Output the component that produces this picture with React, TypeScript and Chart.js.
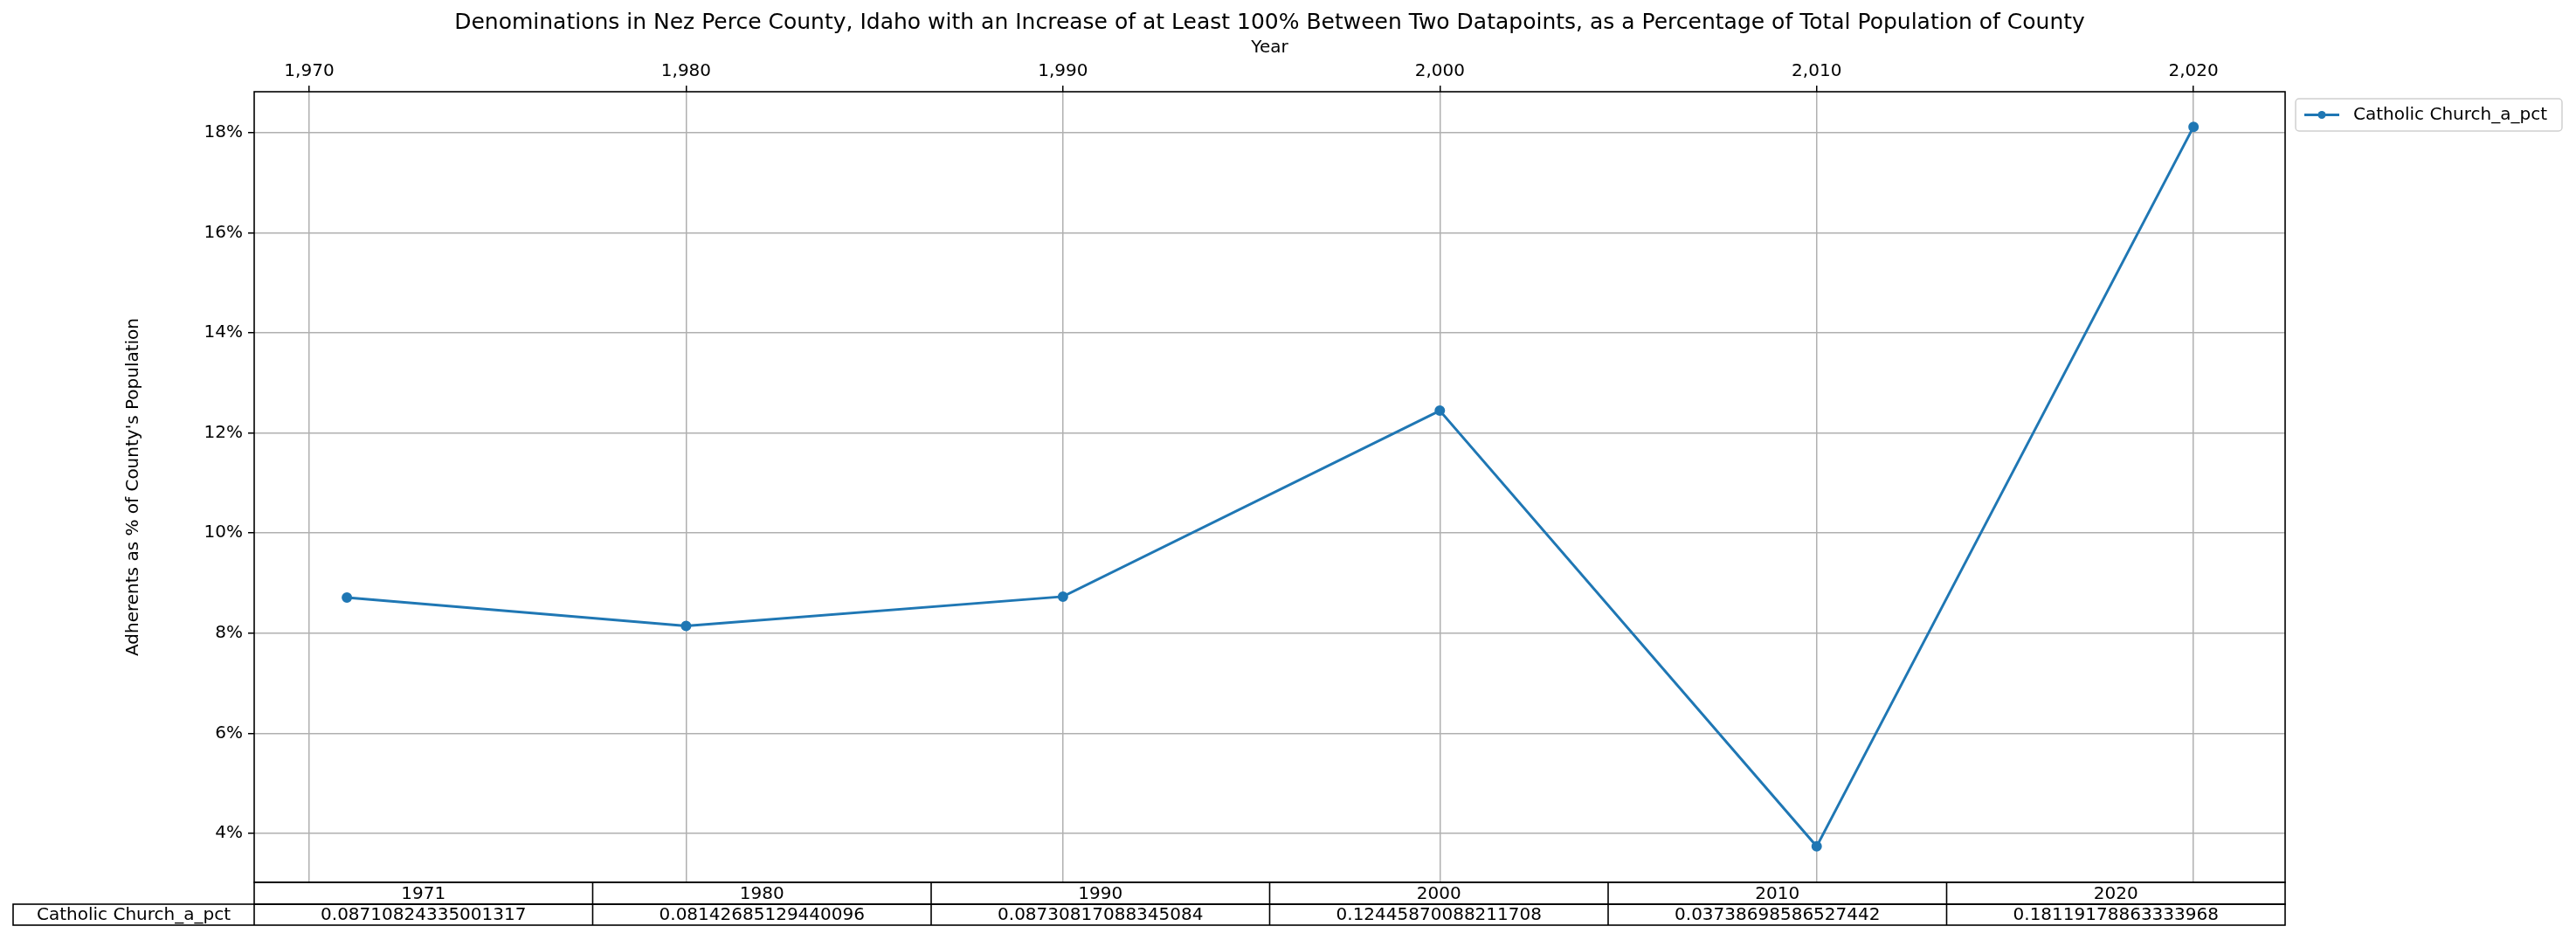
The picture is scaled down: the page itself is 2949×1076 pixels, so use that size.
import { useEffect, useRef } from "react";
import { Chart, registerables } from "chart.js";

Chart.register(...registerables);

const years = [1971, 1980, 1990, 2000, 2010, 2020];
const seriesName = "Catholic Church_a_pct";
const values = [
  0.08710824335001317, 0.08142685129440096, 0.08730817088345084,
  0.12445870088211708, 0.03738698586527442, 0.18119178863333968,
];
const valueLabels = [
  "0.08710824335001317", "0.08142685129440096", "0.08730817088345084",
  "0.12445870088211708", "0.03738698586527442", "0.18119178863333968",
];
const xTicks = [1970, 1980, 1990, 2000, 2010, 2020];
const yTicks = [4, 6, 8, 10, 12, 14, 16, 18];
const title =
  "Denominations in Nez Perce County, Idaho with an Increase of at Least 100% Between Two Datapoints, as a Percentage of Total Population of County";

const FONT = "DejaVu Sans";
const BLUE = "#1f77b4";

const extras = {
  id: "extras",
  afterDraw(chart) {
    const { ctx, chartArea: a } = chart;
    ctx.save();
    ctx.strokeStyle = "#000";
    ctx.lineWidth = 1.6;
    ctx.strokeRect(a.left, a.top, a.right - a.left, a.bottom - a.top);

    ctx.fillStyle = "#000";
    ctx.textAlign = "center";
    ctx.textBaseline = "middle";
    ctx.font = `25px ${FONT}`;
    ctx.fillText(title, (a.left + a.right) / 2, 26);
    ctx.font = `20px ${FONT}`;
    ctx.fillText("Year", (a.left + a.right) / 2, 55);

    // table
    const colW = (a.right - a.left) / years.length;
    const r0 = a.bottom, r1 = a.bottom + 25, r2 = a.bottom + 49;
    ctx.lineWidth = 1.6;
    ctx.strokeRect(a.left, r0, a.right - a.left, r1 - r0);
    ctx.strokeRect(15, r1, a.right - 15, r2 - r1);
    ctx.beginPath();
    ctx.moveTo(a.left, r1);
    ctx.lineTo(a.left, r2);
    for (let i = 1; i < years.length; i++) {
      const x = a.left + i * colW;
      ctx.moveTo(x, r0);
      ctx.lineTo(x, r2);
    }
    ctx.stroke();
    years.forEach((y, i) => {
      const cx = a.left + (i + 0.5) * colW;
      ctx.fillText(String(y), cx, (r0 + r1) / 2 + 1);
      ctx.fillText(valueLabels[i], cx, (r1 + r2) / 2 + 1);
    });
    ctx.fillText(seriesName, (15 + a.left) / 2, (r1 + r2) / 2 + 1);

    // legend
    const lx = 2628, ly = 113;
    ctx.strokeStyle = "#d0d0d0";
    ctx.lineWidth = 1.5;
    ctx.beginPath();
    ctx.roundRect(lx, ly, 305, 37, 4);
    ctx.stroke();
    ctx.strokeStyle = BLUE;
    ctx.lineWidth = 3;
    ctx.beginPath();
    ctx.moveTo(lx + 10, ly + 18.5);
    ctx.lineTo(lx + 50, ly + 18.5);
    ctx.stroke();
    ctx.fillStyle = BLUE;
    ctx.beginPath();
    ctx.arc(lx + 30, ly + 18.5, 4.5, 0, Math.PI * 2);
    ctx.fill();
    ctx.fillStyle = "#000";
    ctx.textAlign = "left";
    ctx.fillText(seriesName, lx + 66, ly + 19);
    ctx.restore();
  },
};

export default function App() {
  const ref = useRef<HTMLCanvasElement>(null);

  useEffect(() => {
    document.body.style.margin = "0";
    const chart = new Chart(ref.current, {
      type: "line",
      data: {
        datasets: [
          {
            label: seriesName,
            data: years.map((y, i) => ({ x: y, y: values[i] * 100 })),
            borderColor: BLUE,
            backgroundColor: BLUE,
            borderWidth: 3,
            pointRadius: 4.5,
            pointHoverRadius: 4.5,
            tension: 0,
          },
        ],
      },
      options: {
        responsive: false,
        animation: false,
        layout: { padding: { left: 141, top: 45, right: 333, bottom: 66 } },
        plugins: { legend: { display: false }, tooltip: { enabled: false } },
        scales: {
          x: {
            type: "linear",
            position: "top",
            min: 1968.54,
            max: 2022.43,
            afterBuildTicks: (s) => {
              s.ticks = xTicks.map((v) => ({ value: v }));
            },
            afterFit: (s) => {
              s.height = 60;
            },
            grid: { color: "#b0b0b0", lineWidth: 1.5, tickColor: "#000", tickLength: 7 },
            border: { display: false },
            ticks: { color: "#000", font: { family: FONT, size: 20 }, maxRotation: 0, padding: 4 },
          },
          y: {
            min: 3.02,
            max: 18.82,
            afterBuildTicks: (s) => {
              s.ticks = yTicks.map((v) => ({ value: v }));
            },
            afterFit: (s) => {
              s.width = 150;
            },
            grid: { color: "#b0b0b0", lineWidth: 1.5, tickColor: "#000", tickLength: 7 },
            border: { display: false },
            title: {
              display: true,
              text: "Adherents as % of County's Population",
              color: "#000",
              font: { family: FONT, size: 20 },
              padding: 0,
            },
            ticks: {
              color: "#000",
              font: { family: FONT, size: 20 },
              padding: 6,
              callback: (v) => `${v}%`,
            },
          },
        },
      },
      plugins: [extras],
    });
    return () => chart.destroy();
  }, []);

  return <canvas ref={ref} width={2949} height={1076} style={{ display: "block" }} />;
}
